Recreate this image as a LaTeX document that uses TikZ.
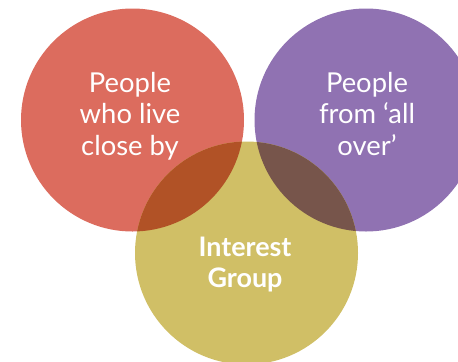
\documentclass[tikz,border=0pt]{standalone}
\usepackage{fontspec}
\setmainfont{Lato}
\definecolor{cred}{HTML}{DC6C5E}
\definecolor{cpurple}{HTML}{9072B2}
\definecolor{cyellow}{HTML}{D0BF66}
\definecolor{cry}{HTML}{B15226}
\definecolor{cpy}{HTML}{77554B}
\begin{document}
\begin{tikzpicture}[x=1bp,y=-1bp,
  lbl/.style={text=white,align=center,inner sep=0pt,anchor=base,font=\fontsize{27.5}{31.5}\selectfont},
  blbl/.style={lbl,font=\fontsize{27}{31}\selectfont\bfseries}]
\useasboundingbox (0,0) rectangle (458,361);
\fill[cred] (132.5,120) circle (111.5);
\fill[cpurple] (366,120) circle (111.5);
\fill[cyellow] (246.5,253) circle (111.5);
\begin{scope}
\clip (132.5,120) circle (111.5);
\fill[cry] (246.5,253) circle (111.5);
\end{scope}
\begin{scope}
\clip (366,120) circle (111.5);
\fill[cpy] (246.5,253) circle (111.5);
\end{scope}
\node[lbl] (a) at (130,155) {People\\who live\\close by};
\node[lbl] (b) at (367,155) {People\\from ‘all\\over’};
\node[blbl] (c) at (245,287) {Interest\\Group};
\end{tikzpicture}
\end{document}
